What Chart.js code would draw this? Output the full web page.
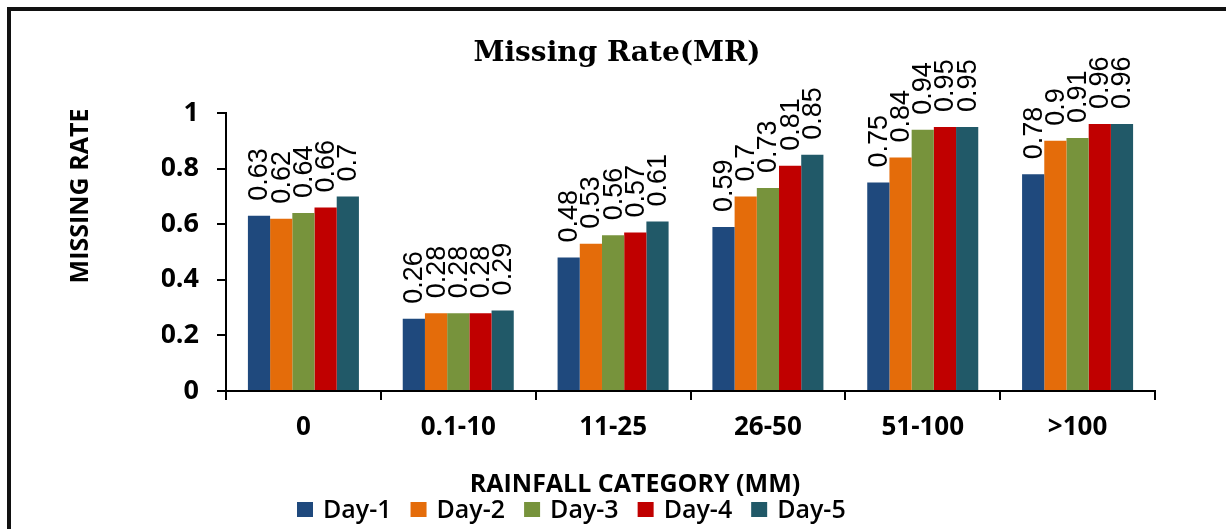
<!DOCTYPE html>
<html>
<head>
<meta charset="utf-8">
<script src="https://cdn.jsdelivr.net/npm/chart.js@4.4.1/dist/chart.umd.min.js"></script>
<style>
  html, body { margin: 0; padding: 0; background: #ffffff; }
  #wrap { width: 1226px; height: 529px; position: relative; }
</style>
</head>
<body>
<div id="wrap"><canvas id="c" width="1226" height="529"></canvas></div>
<script>
// Rainfall categories and per-day missing rates
const categories = ['0', '0.1-10', '11-25', '26-50', '51-100', '>100'];
const seriesNames = ['Day-1', 'Day-2', 'Day-3', 'Day-4', 'Day-5'];
const day1 = [0.63, 0.26, 0.48, 0.59, 0.75, 0.78];
const day2 = [0.62, 0.28, 0.53, 0.70, 0.84, 0.90];
const day3 = [0.64, 0.28, 0.56, 0.73, 0.94, 0.91];
const day4 = [0.66, 0.28, 0.57, 0.81, 0.95, 0.96];
const day5 = [0.70, 0.29, 0.61, 0.85, 0.95, 0.96];
const yTicks = [0, 0.2, 0.4, 0.6, 0.8, 1];

const seriesValues = [day1, day2, day3, day4, day5];
const seriesColors = ['#1F497D', '#E46C0A', '#77933C', '#C00000', '#215968'];

const chartTitle = 'Missing Rate(MR)';
const yTitle = 'MISSING RATE';
const xTitle = 'RAINFALL CATEGORY (MM)';

// Rotated value labels above each bar
const barValueLabels = {
  id: 'barValueLabels',
  afterDatasetsDraw(chart) {
    const ctx = chart.ctx;
    ctx.save();
    ctx.fillStyle = '#000';
    ctx.font = '27px "Liberation Sans", Arial, sans-serif';
    ctx.textAlign = 'left';
    ctx.textBaseline = 'middle';
    chart.data.datasets.forEach((ds, di) => {
      const meta = chart.getDatasetMeta(di);
      meta.data.forEach((bar, i) => {
        ctx.save();
        ctx.translate(bar.x + 1, bar.y - 15);
        ctx.rotate(-Math.PI / 2);
        ctx.fillText(String(ds.data[i]), 0, 0);
        ctx.restore();
      });
    });
    ctx.restore();
  }
};

// Frame, titles and legend
const decorations = {
  id: 'decorations',
  afterDraw(chart) {
    const ctx = chart.ctx;
    ctx.save();
    // outer frame (top and left edges)
    ctx.strokeStyle = '#111';
    ctx.lineWidth = 4;
    ctx.beginPath();
    ctx.moveTo(9, 529);
    ctx.lineTo(9, 9);
    ctx.lineTo(1226, 9);
    ctx.stroke();

    ctx.fillStyle = '#000';
    // chart title
    ctx.font = 'bold 28px "DejaVu Serif", serif';
    ctx.textAlign = 'center';
    ctx.textBaseline = 'alphabetic';
    ctx.fillText(chartTitle, 617, 61);

    // x axis title
    ctx.font = 'bold 25px "Open Sans", sans-serif';
    ctx.fillText(xTitle, 635, 492);

    // y axis title
    ctx.save();
    ctx.translate(81, 196);
    ctx.rotate(-Math.PI / 2);
    ctx.textBaseline = 'middle';
    ctx.fillText(yTitle, 0, 0);
    ctx.restore();

    // legend
    ctx.font = '600 25px "Open Sans", sans-serif';
    ctx.textAlign = 'left';
    ctx.textBaseline = 'alphabetic';
    let x = 297;
    chart.data.datasets.forEach((ds) => {
      ctx.fillStyle = ds.backgroundColor;
      ctx.fillRect(x, 502, 16, 15);
      ctx.fillStyle = '#000';
      ctx.fillText(ds.label, x + 26, 518);
      x += 26 + ctx.measureText(ds.label).width + 19;
    });
    ctx.restore();
  }
};

const datasets = seriesNames.map((name, k) => ({
  label: name,
  data: seriesValues[k],
  backgroundColor: seriesColors[k],
  borderWidth: 0,
  categoryPercentage: 0.717,
  barPercentage: 1.0
}));

new Chart(document.getElementById('c'), {
  type: 'bar',
  data: { labels: categories, datasets },
  options: {
    responsive: false,
    animation: false,
    devicePixelRatio: 1,
    layout: { padding: { left: 162, right: 71, top: 113, bottom: 86 } },
    plugins: {
      legend: { display: false },
      title: { display: false },
      tooltip: { enabled: false }
    },
    scales: {
      x: {
        ticks: {
          color: '#000',
          font: { family: '"Open Sans", sans-serif', size: 26, weight: 'bold' },
          padding: 12,
          maxRotation: 0
        },
        grid: {
          offset: true,
          drawOnChartArea: false,
          drawTicks: true,
          tickLength: 9,
          color: '#000',
          lineWidth: 2
        },
        border: { display: true, color: '#000', width: 2 },
        afterFit(scale) { scale.height = 52; }
      },
      y: {
        min: 0,
        max: 1,
        afterBuildTicks(scale) { scale.ticks = yTicks.map(v => ({ value: v })); },
        ticks: {
          color: '#000',
          font: { family: '"Open Sans", sans-serif', size: 27, weight: 'bold' },
          padding: 18,
          callback: (v) => String(Number(v.toFixed(1)))
        },
        grid: {
          drawOnChartArea: false,
          drawTicks: true,
          tickLength: 9,
          color: '#000',
          lineWidth: 2
        },
        border: { display: true, color: '#000', width: 2 },
        afterFit(scale) { scale.width = 64; }
      }
    }
  },
  plugins: [barValueLabels, decorations]
});
</script>
</body>
</html>
